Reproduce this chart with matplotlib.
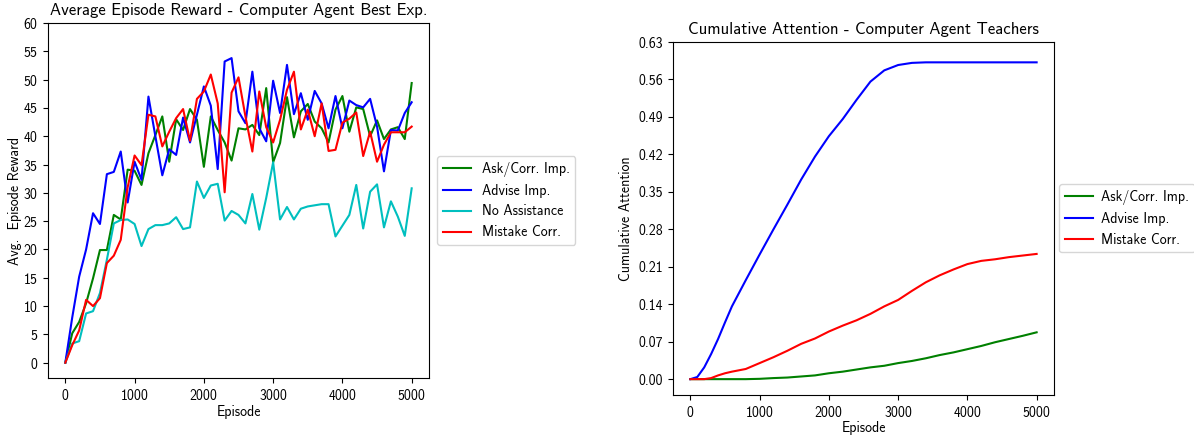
import matplotlib
matplotlib.use('Agg')
import matplotlib.pyplot as plt

plt.rcParams['font.family'] = ['cmss10', 'DejaVu Sans']
plt.rcParams['axes.formatter.use_mathtext'] = True
plt.rcParams['mathtext.fontset'] = 'cm'

# left plot: average episode reward, one point every 100 episodes
episodes = list(range(0, 5001, 100))

ask_corr = [0, 5.2, 7.2, 10.5, 14.9, 19.9, 19.9, 26.1, 25.3, 34.1,
            33.9, 31.4, 37.0, 40.2, 43.5, 35.5, 43.0, 41.1, 44.8, 42.9,
            34.6, 43.5, 41.1, 38.9, 35.7, 41.4, 41.2, 42.0, 40.2, 48.5,
            35.4, 38.8, 46.9, 39.8, 44.4, 45.7, 42.6, 41.4, 38.9, 44.7,
            47.1, 40.8, 45.1, 44.8, 40.0, 42.8, 39.5, 41.2, 41.6, 39.5,
            49.4]
advise = [0, 8.0, 15.2, 20.0, 26.4, 24.5, 33.3, 33.7, 37.3, 28.3,
          35.5, 32.3, 47.0, 40.0, 33.1, 37.7, 36.7, 43.3, 38.9, 43.8,
          48.8, 45.4, 34.2, 53.2, 53.8, 44.4, 42.3, 51.4, 41.4, 39.1,
          49.8, 44.1, 52.6, 43.9, 47.6, 42.9, 48.0, 45.8, 41.4, 47.1,
          41.4, 46.3, 45.5, 45.1, 46.6, 41.7, 33.8, 41.1, 41.0, 44.1,
          46.0]
no_assist = [0, 3.4, 3.8, 8.7, 9.1, 12.3, 18.2, 24.6, 25.2, 25.3,
             24.5, 20.6, 23.6, 24.3, 24.3, 24.6, 25.7, 23.6, 23.9, 32.0,
             29.1, 31.3, 31.6, 25.1, 26.8, 26.1, 24.6, 29.8, 23.5, 29.1,
             35.4, 25.3, 27.5, 25.3, 27.2, 27.6, 27.8, 28.0, 28.0, 22.3,
             24.2, 26.1, 31.4, 23.7, 30.2, 31.5, 23.9, 28.5, 25.8, 22.4,
             30.8]
mistake = [0, 3.1, 5.7, 11.1, 10.0, 11.4, 17.6, 18.9, 21.7, 31.0,
           36.6, 34.9, 43.8, 43.5, 38.2, 40.8, 43.2, 44.8, 39.2, 46.6,
           47.9, 50.9, 45.8, 30.1, 47.7, 50.4, 43.5, 37.3, 47.9, 41.6,
           38.9, 42.9, 48.2, 51.4, 41.2, 44.7, 40.0, 45.8, 37.4, 37.6,
           42.4, 43.1, 44.2, 36.5, 40.8, 35.5, 38.5, 40.7, 40.7, 40.7,
           41.7]

# right plot: cumulative attention
att_episodes = [0, 100, 200, 300, 400, 500, 600, 800, 1000, 1200, 1400,
                1600, 1800, 2000, 2200, 2400, 2600, 2800, 3000, 3200, 3400,
                3600, 3800, 4000, 4200, 4400, 4600, 4800, 5000]
att_ask = [0, 0, 0, 0, 0, 0, 0, 0, 0.0006, 0.002, 0.003,
           0.005, 0.007, 0.011, 0.014, 0.018, 0.022, 0.025, 0.030, 0.034, 0.039,
           0.045, 0.050, 0.056, 0.062, 0.069, 0.075, 0.081, 0.0875]
att_advise = [0, 0.004, 0.022, 0.047, 0.075, 0.106, 0.136, 0.185, 0.233, 0.280, 0.326,
              0.373, 0.416, 0.454, 0.486, 0.522, 0.556, 0.577, 0.587, 0.591, 0.592,
              0.592, 0.592, 0.592, 0.592, 0.592, 0.592, 0.592, 0.592]
att_mistake = [0, 0, 0, 0.002, 0.007, 0.011, 0.014, 0.019, 0.030, 0.041, 0.053,
               0.066, 0.076, 0.089, 0.100, 0.110, 0.122, 0.136, 0.148, 0.165, 0.181,
               0.194, 0.205, 0.215, 0.221, 0.224, 0.228, 0.231, 0.234]

fig = plt.figure(figsize=(11.94, 4.38), dpi=100)

ax1 = fig.add_axes([0.0402, 0.137, 0.3191, 0.8105])
ax1.plot(episodes, ask_corr, color='g', label='Ask/Corr. Imp.')
ax1.plot(episodes, advise, color='b', label='Advise Imp.')
ax1.plot(episodes, no_assist, color='c', label='No Assistance')
ax1.plot(episodes, mistake, color='r', label='Mistake Corr.')
ax1.set_yticks(range(0, 61, 5))
ax1.set_ylim(-2.7, 60)
ax1.set_title('Average Episode Reward - Computer Agent Best Exp.')
ax1.set_xlabel('Episode', labelpad=2)
ax1.set_ylabel('Avg.  Episode Reward', labelpad=1)
ax1.legend(loc='center left', bbox_to_anchor=(1.0, 0.5), borderaxespad=0.6)

ax2 = fig.add_axes([0.5637, 0.0982, 0.3190, 0.8059])
ax2.plot(att_episodes, att_ask, color='g', label='Ask/Corr. Imp.')
ax2.plot(att_episodes, att_advise, color='b', label='Advise Imp.')
ax2.plot(att_episodes, att_mistake, color='r', label='Mistake Corr.')
ax2.set_yticks([i * 0.07 for i in range(10)])
ax2.set_yticklabels(['%.2f' % (i * 0.07) for i in range(10)])
ax2.set_ylim(-0.0296, 0.63)
ax2.set_title('Cumulative Attention - Computer Agent Teachers')
ax2.set_xlabel('Episode', labelpad=1)
ax2.set_ylabel('Cumulative Attention')
ax2.legend(loc='center left', bbox_to_anchor=(1.0, 0.5), borderaxespad=0.4,
           handletextpad=0.6)

fig.savefig('out.png', dpi=100)
